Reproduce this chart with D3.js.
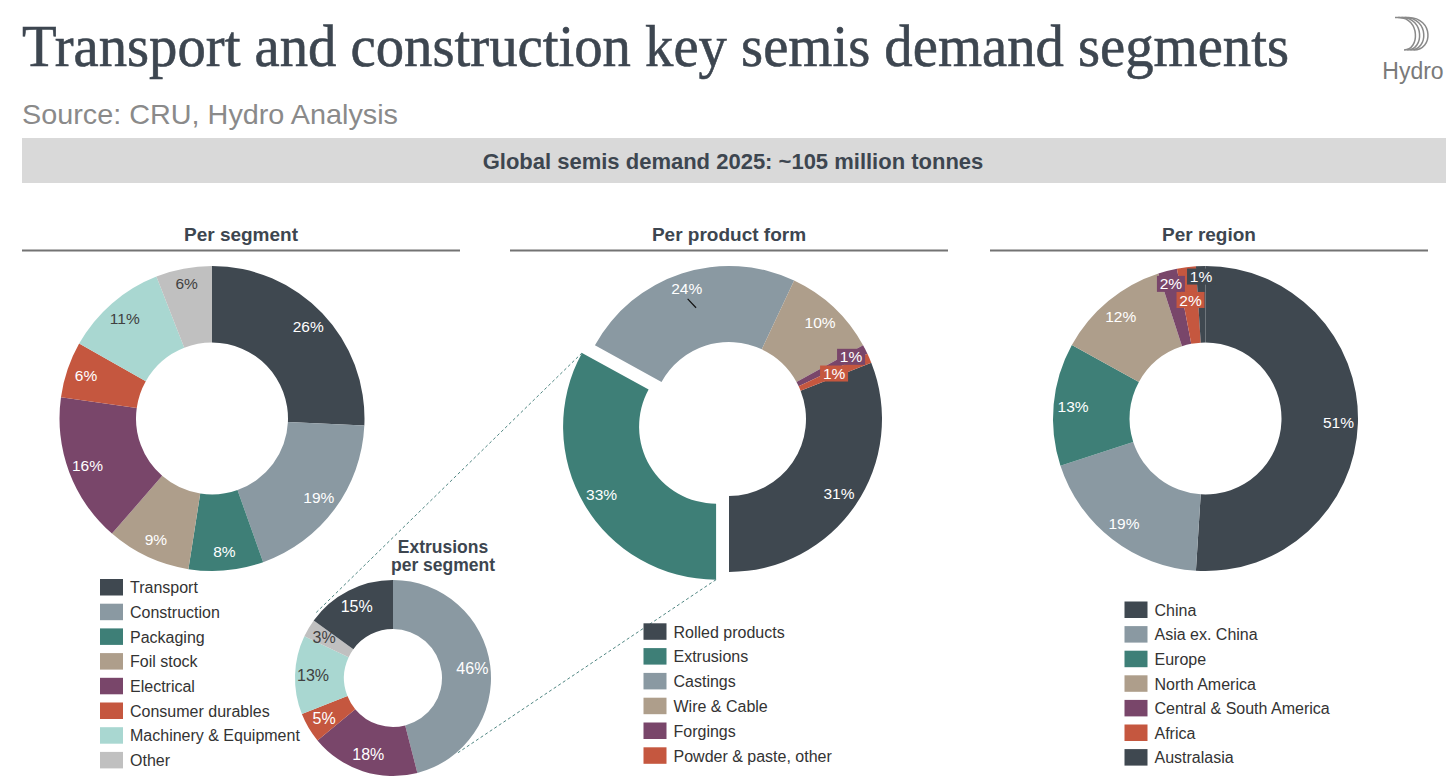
<!DOCTYPE html>
<html><head><meta charset="utf-8">
<script src="https://cdn.jsdelivr.net/npm/d3@7"></script>
<style>
html,body{margin:0;padding:0;background:#fff;}
svg{display:block;}
</style></head>
<body>
<svg id="chart" width="1456" height="783"></svg>
<script>
// ---------- DATA ----------
const segCats = ["Transport","Construction","Packaging","Foil stock","Electrical","Consumer durables","Machinery & Equipment","Other"];
const segVals = [26,19,8,9,16,6,11,6];

const prodCats = ["Rolled products","Extrusions","Castings","Wire & Cable","Forgings","Powder & paste, other"];
const prodVals = [31,33,24,10,1,1];

const regCats = ["China","Asia ex. China","Europe","North America","Central & South America","Africa","Australasia"];
const regVals = [51,19,13,12,2,2,1];

const extCats = ["Construction","Electrical","Consumer durables","Machinery & Equipment","Other","Transport"];
const extVals = [46,18,5,13,3,15];

const titleText = "Transport and construction key semis demand segments";
const sourceText = "Source: CRU, Hydro Analysis";
const bannerText = "Global semis demand 2025: ~105 million tonnes";
const sectionTitles = ["Per segment","Per product form","Per region"];

// ---------- STYLE ----------
const C = {dark:"#3f4850", grey:"#8a99a2", teal:"#3e7f77", tan:"#ae9e8b", plum:"#79466a", red:"#c5573f", lteal:"#a9d7d1", lgrey:"#c0c0c0"};
const segColor = d3.scaleOrdinal().domain(segCats).range([C.dark,C.grey,C.teal,C.tan,C.plum,C.red,C.lteal,C.lgrey]);
const prodColor = d3.scaleOrdinal().domain(prodCats).range([C.dark,C.teal,C.grey,C.tan,C.plum,C.red]);
const regColor = d3.scaleOrdinal().domain(regCats).range([C.dark,C.grey,C.teal,C.tan,C.plum,C.red,C.dark]);
const lightFill = new Set([C.lteal, C.lgrey]);
const textDark = "#3d4650";
const sans = "Liberation Sans, Arial, Helvetica, sans-serif";

const svg = d3.select("#chart");

// ---------- HEADER ----------
const title = svg.append("text").attr("x",22).attr("y",66)
  .attr("font-family","Liberation Serif, Times New Roman, serif")
  .attr("font-size",60).attr("fill",textDark)
  .attr("stroke",textDark).attr("stroke-width",0.6).text(titleText);
title.attr("textLength",1267).attr("lengthAdjust","spacingAndGlyphs");

const src = svg.append("text").attr("x",22).attr("y",124)
  .attr("font-family",sans).attr("font-size",28).attr("fill","#8a8a8a").text(sourceText);
src.attr("textLength",376).attr("lengthAdjust","spacingAndGlyphs");

svg.append("rect").attr("x",22).attr("y",138).attr("width",1424).attr("height",45).attr("fill","#d9d9d9");
svg.append("text").attr("x",733).attr("y",168.5).attr("text-anchor","middle")
  .attr("font-family",sans).attr("font-weight","bold").attr("font-size",22).attr("fill",textDark).text(bannerText);

// Hydro logo
const logo = svg.append("g");
for (let i=0;i<4;i++){
  const x0 = 1397 + i*3.2, x1 = 1404 + i*3.2, bx = 1412 + i*4.5;
  logo.append("path")
    .attr("d",`M${x0-2},17.5 L${x0+2},17.5 C${bx+8},18 ${bx+8},50 ${x1},50`)
    .attr("fill","none").attr("stroke","#8a8a8a").attr("stroke-width",1.5);
}
logo.append("text").attr("x",1413).attr("y",79).attr("text-anchor","middle")
  .attr("font-family",sans).attr("font-size",23).attr("fill","#7a7a7a").text("Hydro");

// Section headings
const sections = [{cx:241,x0:22,x1:460},{cx:729,x0:510,x1:948},{cx:1209,x0:990,x1:1428}];
sections.forEach((s,i)=>{
  svg.append("text").attr("x",s.cx).attr("y",241).attr("text-anchor","middle")
    .attr("font-family",sans).attr("font-weight","bold").attr("font-size",19).attr("fill",textDark).text(sectionTitles[i]);
  svg.append("line").attr("x1",s.x0).attr("x2",s.x1).attr("y1",250.5).attr("y2",250.5)
    .attr("stroke","#737373").attr("stroke-width",2);
});

// ---------- DONUT DRAWER ----------
function donut(opts){
  const {cats, vals, color, cx, cy, r0, r1, start, labelR, boxed, explode, fontSize, leader} = opts;
  const pie = d3.pie().sort(null).value(d=>d.v).startAngle(start).endAngle(start+2*Math.PI);
  const data = pie(cats.map((c,i)=>({c, v:vals[i], i})));
  const arc = d3.arc().innerRadius(r0).outerRadius(r1);
  const g = svg.append("g").attr("transform",`translate(${cx},${cy})`);
  const off = d => {
    const e = (explode && explode[d.index]) || 0;
    const a = (d.startAngle+d.endAngle)/2;
    return [e*Math.sin(a), -e*Math.cos(a)];
  };
  g.selectAll("path.slice").data(data).join("path").attr("class","slice")
    .attr("d",arc).attr("fill",d=>color(d.data.c))
    .attr("transform",d=>{const o=off(d);return `translate(${o[0]},${o[1]})`;});
  if (leader){
    const d = data[leader.index];
    const o = off(d);
    const p = (a,r)=>[o[0]+r*Math.sin(a), o[1]-r*Math.cos(a)];
    const a1 = leader.a1*Math.PI/180, a2 = leader.a2*Math.PI/180;
    const A = p(a1,leader.r1), B = p(a2,leader.r2);
    g.append("line").attr("x1",A[0]).attr("y1",A[1]).attr("x2",B[0]).attr("y2",B[1])
      .attr("stroke","#111").attr("stroke-width",1.2);
  }
  const lab = g.selectAll("g.lab").data(data).join("g").attr("class","lab")
    .attr("transform",d=>{
      const o=off(d); const a=(d.startAngle+d.endAngle)/2; const r=labelR[d.index];
      return `translate(${o[0]+r*Math.sin(a)},${o[1]-r*Math.cos(a)})`;
    });
  lab.each(function(d){
    const sel = d3.select(this);
    const fill = color(d.data.c);
    if (boxed && boxed[d.index]){
      sel.append("rect").attr("x",-14).attr("y",-8).attr("width",28).attr("height",16).attr("fill",fill);
    }
    sel.append("text").attr("text-anchor","middle").attr("dy","0.36em")
      .attr("font-family",sans).attr("font-size",fontSize)
      .attr("fill", lightFill.has(fill) ? "#404040" : "#ffffff")
      .text(d.data.v+"%");
  });
  return {data, off, cx, cy, r1};
}

// Per segment
donut({cats:segCats, vals:segVals, color:segColor, cx:212, cy:418.5, r0:76, r1:152.5, start:0,
  labelR:[133,133,133,133,133,133,133,137], fontSize:15.5});

// Per product form
const prod = donut({cats:prodCats, vals:prodVals, color:prodColor, cx:729, cy:419, r0:77, r1:153,
  start: Math.PI - 2*Math.PI*prodVals[0]/d3.sum(prodVals),
  labelR:[133,133,137,133,137,114.5], boxed:[0,0,0,0,1,1], explode:[0,15,0,0,0,0], fontSize:15.5,
  leader:{index:2, a1:341, r1:127, a2:343.5, r2:116}});

// Per region
donut({cats:regCats, vals:regVals, color:regColor, cx:1205.5, cy:418.5, r0:76, r1:152.5, start:0,
  labelR:[133,133,133,133,139,119.5,142], boxed:[0,0,0,0,1,1,1], fontSize:15.5});

// Extrusions per segment
const ext = donut({cats:extCats, vals:extVals, color:segColor, cx:393, cy:678, r0:49, r1:98, start:0,
  labelR:[80,80,80,80,80,80], fontSize:16});

svg.append("text").attr("x",443).attr("y",553).attr("text-anchor","middle")
  .attr("font-family",sans).attr("font-weight","bold").attr("font-size",17.5).attr("fill",textDark).text("Extrusions");
svg.append("text").attr("x",443).attr("y",571).attr("text-anchor","middle")
  .attr("font-family",sans).attr("font-weight","bold").attr("font-size",17.5).attr("fill",textDark).text("per segment");

// Connector dashed lines (extrusions slice -> small donut)
(function(){
  const d = prod.data[1];
  const o = prod.off(d);
  const pt = (a) => [prod.cx+o[0]+prod.r1*Math.sin(a), prod.cy+o[1]-prod.r1*Math.cos(a)];
  const sp = (deg,r) => {const a=deg*Math.PI/180; return [ext.cx + r*Math.sin(a), ext.cy - r*Math.cos(a)];};
  const lines = [[pt(d.endAngle), sp(310,101)], [pt(d.startAngle), sp(139,99)]];
  lines.forEach(([A,B])=>{
    svg.append("line").attr("x1",A[0]).attr("y1",A[1]).attr("x2",B[0]).attr("y2",B[1])
      .attr("stroke","#4f8682").attr("stroke-width",1).attr("stroke-dasharray","3,2.5");
  });
})();

// ---------- LEGENDS ----------
function legend(cats, color, x, y0, step){
  const g = svg.append("g");
  cats.forEach((c,i)=>{
    const y = y0 + i*step;
    g.append("rect").attr("x",x).attr("y",y).attr("width",23).attr("height",16.5).attr("fill",color(c));
    g.append("text").attr("x",x+30).attr("y",y+8.5).attr("dy","0.36em")
      .attr("font-family",sans).attr("font-size",16).attr("fill","#333").text(c);
  });
}
legend(segCats, segColor, 100, 579, 24.7);
legend(prodCats, prodColor, 643.5, 623.3, 24.8);
legend(regCats, regColor, 1124.5, 601.5, 24.6);
</script>
</body></html>
